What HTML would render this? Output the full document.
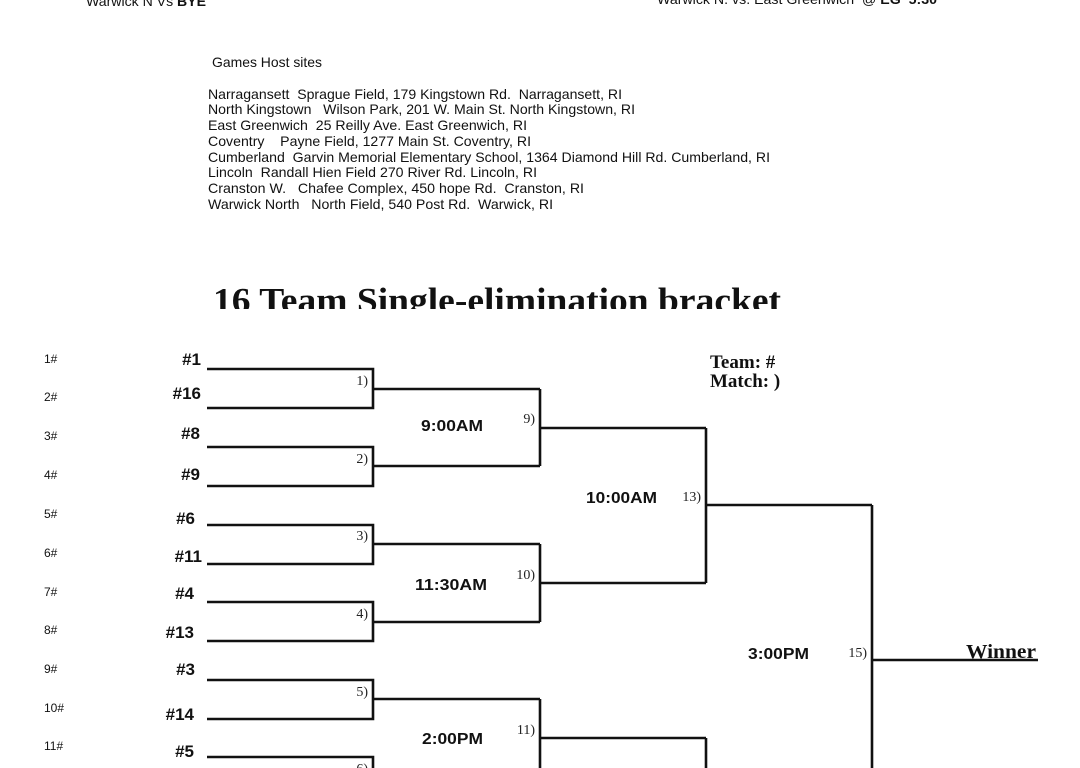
<!DOCTYPE html>
<html><head><meta charset="utf-8"><style>
html,body{margin:0;padding:0;background:#fff;width:1080px;height:768px;overflow:hidden}
svg{display:block}
text{white-space:pre}
.s{font-family:"Liberation Sans",sans-serif;font-size:14px;fill:#111}
.sm{font-family:"Liberation Sans",sans-serif;font-size:12px;fill:#111}
.tm{font-family:"Liberation Sans",sans-serif;font-size:17px;font-weight:bold;fill:#111;text-anchor:end}
.ti{font-family:"Liberation Sans",sans-serif;font-size:16px;font-weight:bold;fill:#111}
.mt{font-family:"Liberation Serif",serif;font-size:14px;fill:#222;text-anchor:end}
.bs{font-family:"Liberation Serif",serif;font-weight:bold;fill:#111}
</style></head><body>
<svg width="1080" height="768" viewBox="0 0 1080 768">
<text class="s" x="86" y="6" textLength="120" lengthAdjust="spacingAndGlyphs">Warwick N Vs <tspan font-weight="bold">BYE</tspan></text>
<text class="s" x="657" y="4" textLength="280" lengthAdjust="spacingAndGlyphs">Warwick N. vs. East Greenwich  @ <tspan font-weight="bold">EG  5:30</tspan></text>
<text class="s" x="212" y="67" textLength="110" lengthAdjust="spacingAndGlyphs">Games Host sites</text>
<g class="s">
<text x="208" y="99" textLength="414" lengthAdjust="spacingAndGlyphs">Narragansett  Sprague Field, 179 Kingstown Rd.  Narragansett, RI</text>
<text x="208" y="114" textLength="427" lengthAdjust="spacingAndGlyphs">North Kingstown   Wilson Park, 201 W. Main St. North Kingstown, RI</text>
<text x="208" y="130" textLength="319" lengthAdjust="spacingAndGlyphs">East Greenwich  25 Reilly Ave. East Greenwich, RI</text>
<text x="208" y="146" textLength="323" lengthAdjust="spacingAndGlyphs">Coventry    Payne Field, 1277 Main St. Coventry, RI</text>
<text x="208" y="162" textLength="562" lengthAdjust="spacingAndGlyphs">Cumberland  Garvin Memorial Elementary School, 1364 Diamond Hill Rd. Cumberland, RI</text>
<text x="208" y="177" textLength="329" lengthAdjust="spacingAndGlyphs">Lincoln  Randall Hien Field 270 River Rd. Lincoln, RI</text>
<text x="208" y="193" textLength="376" lengthAdjust="spacingAndGlyphs">Cranston W.   Chafee Complex, 450 hope Rd.  Cranston, RI</text>
<text x="208" y="209" textLength="345" lengthAdjust="spacingAndGlyphs">Warwick North   North Field, 540 Post Rd.  Warwick, RI</text>
</g>
<clipPath id="c"><rect x="0" y="270" width="1080" height="39"/></clipPath>
<text class="bs" clip-path="url(#c)" x="213" y="312" font-size="35" textLength="568" lengthAdjust="spacingAndGlyphs">16 Team Single-elimination bracket</text>
<g class="sm">
<text x="44" y="363">1#</text><text x="44" y="401">2#</text><text x="44" y="440">3#</text><text x="44" y="479">4#</text>
<text x="44" y="518">5#</text><text x="44" y="557">6#</text><text x="44" y="596">7#</text><text x="44" y="634">8#</text>
<text x="44" y="673">9#</text><text x="44" y="712">10#</text><text x="44" y="750">11#</text>
</g>
<g class="tm">
<text x="201" y="365">#1</text><text x="201" y="399">#16</text><text x="200" y="439">#8</text><text x="200" y="480">#9</text>
<text x="195" y="524">#6</text><text x="202" y="562">#11</text><text x="194" y="599">#4</text><text x="194" y="638">#13</text>
<text x="195" y="675">#3</text><text x="194" y="720">#14</text><text x="194" y="757">#5</text>
</g>
<g fill="none" stroke="#111" stroke-width="2.6">
<path d="M207 369H373V408H207M373 389H540"/>
<path d="M207 447H373V486H207M373 466H540"/>
<path d="M207 525H373V564H207M373 544H540"/>
<path d="M207 602H373V641H207M373 622H540"/>
<path d="M207 680H373V719H207M373 699H540"/>
<path d="M207 757H373V796H207M373 777H540"/>
<path d="M540 389V466M540 428H706"/>
<path d="M540 544V622M540 583H706"/>
<path d="M540 699V777M540 738H706"/>
<path d="M706 428V583M706 505H872"/>
<path d="M706 738V800"/>
<path d="M872 505V800M872 660H1038"/>
</g>
<g class="mt">
<text x="368" y="385">1)</text><text x="368" y="463">2)</text><text x="368" y="540">3)</text><text x="368" y="618">4)</text>
<text x="368" y="696">5)</text><text x="368" y="773">6)</text>
<text x="535" y="423">9)</text><text x="535" y="579">10)</text><text x="535" y="734">11)</text>
<text x="701" y="501">13)</text><text x="867" y="657">15)</text>
</g>
<g class="ti">
<text x="421" y="431" textLength="62" lengthAdjust="spacingAndGlyphs">9:00AM</text>
<text x="586" y="503" textLength="71" lengthAdjust="spacingAndGlyphs">10:00AM</text>
<text x="415" y="590" textLength="72" lengthAdjust="spacingAndGlyphs">11:30AM</text>
<text x="748" y="659" textLength="61" lengthAdjust="spacingAndGlyphs">3:00PM</text>
<text x="422" y="744" textLength="61" lengthAdjust="spacingAndGlyphs">2:00PM</text>
</g>
<text class="bs" x="710" y="368" font-size="19">Team: #</text>
<text class="bs" x="710" y="387" font-size="19">Match: )</text>
<text class="bs" x="966" y="658" font-size="20" textLength="70" lengthAdjust="spacingAndGlyphs" text-decoration="underline">Winner</text>
</svg>
</body></html>
